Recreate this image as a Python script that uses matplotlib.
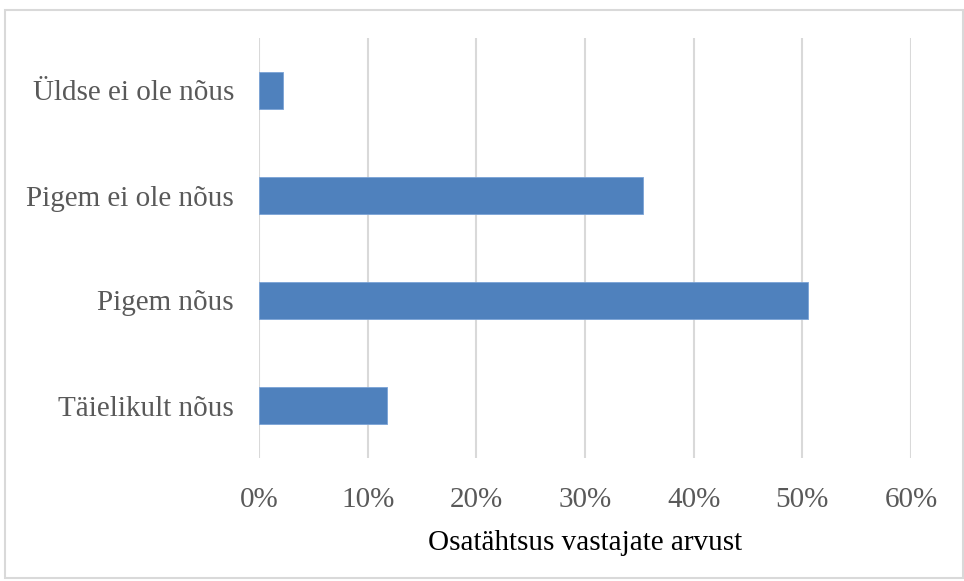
import matplotlib.pyplot as plt
from matplotlib.patches import Rectangle
from matplotlib.ticker import FuncFormatter

categories = ["Täielikult nõus", "Pigem nõus", "Pigem ei ole nõus", "Üldse ei ole nõus"]
shares = [0.118, 0.505, 0.353, 0.022]
xticks = [0, 0.1, 0.2, 0.3, 0.4, 0.5, 0.6]

plt.rcParams['font.family'] = ['Liberation Serif', 'DejaVu Serif']

fig = plt.figure(figsize=(9.64, 5.81), dpi=100)
ax = fig.add_axes([259/964, 1 - 458/581, (911 - 259)/964, 420/581])

ax.barh(range(len(categories)), shares, height=0.36, color='#4f81bd',
        edgecolor='#7aa3d6', linewidth=0.6, zorder=3)

ax.set_xlim(0, 0.6)
ax.set_ylim(-0.5, len(categories) - 0.5)
ax.set_xticks(xticks)
ax.xaxis.set_major_formatter(FuncFormatter(lambda v, p: f"{v*100:.0f}%"))
ax.set_yticks(range(len(categories)))
ax.set_yticklabels(categories)

ax.grid(axis='x', color='#d9d9d9', linewidth=1.5, zorder=0)
for s in ax.spines.values():
    s.set_visible(False)
ax.tick_params(axis='both', length=0, labelsize=21, colors='#595959')
ax.tick_params(axis='x', pad=21)
ax.tick_params(axis='y', pad=18)
ax.set_xlabel("Osatähtsus vastajate arvust", fontsize=21, color='black', labelpad=12)

fig.patches.append(Rectangle((5/964, 3/581), 958/964, 568/581, transform=fig.transFigure,
                             fill=False, edgecolor='#d9d9d9', linewidth=1.5))

fig.savefig("out.png", dpi=100)
